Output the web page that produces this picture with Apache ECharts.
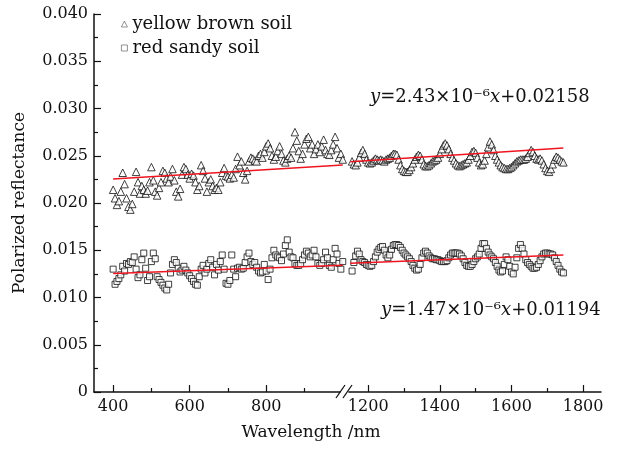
<!DOCTYPE html>
<html><head><meta charset="utf-8">
<script src="https://cdn.jsdelivr.net/npm/echarts@6/dist/echarts.min.js"></script>
<style>html,body{margin:0;padding:0;background:#fff}#c{width:622px;height:451px}</style>
</head><body><div id="c"></div>
<script>
// wavelength grid (nm) of each spectral segment
const leftStart = 400, rightStart = 1155, step = 5;

// yellow brown soil, 400-1000 nm
const yellowLeft = [
0.0214,0.0205,0.0198,0.0202,0.0212,0.0232,0.0220,0.0205,0.0196,0.0193,
0.0199,0.0212,0.0233,0.0222,0.0210,0.0218,0.0214,0.0210,0.0213,0.0222,
0.0238,0.0224,0.0212,0.0208,0.0216,0.0222,0.0234,0.0232,0.0226,0.0222,
0.0228,0.0236,0.0224,0.0212,0.0207,0.0215,0.0230,0.0238,0.0236,0.0230,
0.0226,0.0231,0.0229,0.0222,0.0214,0.0218,0.0240,0.0234,0.0226,0.0212,
0.0222,0.0225,0.0218,0.0214,0.0216,0.0214,0.0222,0.0232,0.0237,0.0229,
0.0228,0.0226,0.0230,0.0227,0.0236,0.0249,0.0240,0.0244,0.0232,0.0225,
0.0234,0.0244,0.0248,0.0247,0.0245,0.0244,0.0250,0.0252,0.0248,0.0254,
0.0260,0.0263,0.0258,0.0250,0.0246,0.0249,0.0255,0.0260,0.0252,0.0245,
0.0243,0.0247,0.0250,0.0248,0.0258,0.0275,0.0266,0.0255,0.0247,0.0252,
0.0262,0.0268,0.0270,0.0258,0.0262,0.0252,0.0257,0.0262,0.0254,0.0260,
0.0267,0.0256,0.0252,0.0251,0.0256,0.0262,0.0270,0.0258,0.0248,0.0252,
0.0246];
// red sandy soil, 400-1000 nm
const redLeft = [
0.0130,0.0114,0.0117,0.0120,0.0124,0.0133,0.0128,0.0136,0.0135,0.0138,
0.0137,0.0143,0.0130,0.0121,0.0124,0.0140,0.0147,0.0131,0.0118,0.0122,
0.0138,0.0147,0.0141,0.0122,0.0119,0.0116,0.0113,0.0110,0.0108,0.0114,
0.0126,0.0135,0.0140,0.0137,0.0131,0.0127,0.0129,0.0133,0.0129,0.0126,
0.0123,0.0120,0.0117,0.0114,0.0113,0.0122,0.0130,0.0134,0.0126,0.0130,
0.0136,0.0140,0.0132,0.0124,0.0135,0.0129,0.0138,0.0145,0.0130,0.0115,
0.0114,0.0118,0.0145,0.0130,0.0122,0.0131,0.0132,0.0130,0.0131,0.0137,
0.0143,0.0147,0.0138,0.0135,0.0137,0.0132,0.0128,0.0126,0.0127,0.0135,
0.0128,0.0119,0.0130,0.0142,0.0150,0.0145,0.0143,0.0142,0.0139,0.0146,
0.0155,0.0161,0.0148,0.0143,0.0142,0.0136,0.0134,0.0134,0.0136,0.0140,
0.0145,0.0149,0.0147,0.0143,0.0145,0.0150,0.0143,0.0136,0.0134,0.0136,
0.0140,0.0148,0.0142,0.0134,0.0132,0.0140,0.0152,0.0146,0.0136,0.0130,
0.0138];
// yellow brown soil, 1155-1745 nm
const yellowRight = [
0.0244,0.0241,0.0240,0.0243,0.0248,0.0253,0.0256,0.0252,0.0246,0.0243,
0.0242,0.0243,0.0245,0.0247,0.0246,0.0245,0.0246,0.0245,0.0244,0.0246,
0.0247,0.0248,0.0250,0.0252,0.0252,0.0251,0.0246,0.0240,0.0236,0.0234,
0.0233,0.0233,0.0235,0.0238,0.0242,0.0246,0.0249,0.0251,0.0250,0.0246,
0.0241,0.0239,0.0239,0.0240,0.0242,0.0244,0.0245,0.0246,0.0248,0.0252,
0.0257,0.0261,0.0263,0.0261,0.0257,0.0252,0.0248,0.0245,0.0242,0.0240,
0.0239,0.0240,0.0241,0.0242,0.0243,0.0246,0.0250,0.0254,0.0255,0.0253,
0.0248,0.0243,0.0240,0.0241,0.0245,0.0252,0.0259,0.0265,0.0262,0.0256,
0.0250,0.0246,0.0243,0.0240,0.0238,0.0237,0.0236,0.0236,0.0237,0.0238,
0.0240,0.0242,0.0244,0.0245,0.0246,0.0246,0.0246,0.0247,0.0249,0.0253,
0.0256,0.0254,0.0250,0.0247,0.0246,0.0247,0.0245,0.0241,0.0237,0.0234,
0.0233,0.0236,0.0241,0.0246,0.0249,0.0248,0.0246,0.0244,0.0243];
// red sandy soil, 1155-1745 nm
const redRight = [
0.0128,0.0137,0.0144,0.0149,0.0146,0.0140,0.0138,0.0137,0.0135,0.0134,
0.0133,0.0134,0.0138,0.0143,0.0148,0.0151,0.0153,0.0154,0.0150,0.0145,
0.0142,0.0145,0.0151,0.0155,0.0156,0.0156,0.0155,0.0153,0.0150,0.0147,
0.0145,0.0143,0.0141,0.0138,0.0134,0.0131,0.0129,0.0130,0.0135,0.0142,
0.0147,0.0149,0.0147,0.0144,0.0142,0.0141,0.0141,0.0140,0.0140,0.0139,
0.0138,0.0138,0.0138,0.0139,0.0142,0.0145,0.0147,0.0147,0.0147,0.0147,
0.0146,0.0144,0.0141,0.0137,0.0134,0.0133,0.0133,0.0135,0.0138,0.0141,
0.0143,0.0146,0.0152,0.0157,0.0157,0.0152,0.0148,0.0145,0.0143,0.0141,
0.0137,0.0133,0.0129,0.0127,0.0128,0.0135,0.0143,0.0140,0.0133,0.0127,
0.0125,0.0132,0.0142,0.0152,0.0156,0.0152,0.0146,0.0140,0.0137,0.0135,
0.0133,0.0131,0.0131,0.0132,0.0135,0.0139,0.0143,0.0146,0.0147,0.0147,
0.0146,0.0146,0.0145,0.0142,0.0138,0.0134,0.0130,0.0127,0.0126];

// linear fits printed on the chart
const yellowFit = { slope: 2.43e-6, intercept: 0.02158 };
const redFit = { slope: 1.47e-6, intercept: 0.01194 };
const fitRangeLeft = [400, 1000];
const fitRangeRight = [1150, 1745];

// axis ticks
const xLabelsLeft = [400, 600, 800];
const xMinorLeft = [500, 700, 900];
const xLabelsRight = [1200, 1400, 1600, 1800];
const xMinorRight = [1300, 1500, 1700];
const seriesNames = ['yellow brown soil', 'red sandy soil'];

const FONT = 'DejaVu Serif';
const INK = '#111111';

function pairs(start, arr) { return arr.map((v, i) => [start + i * step, v]); }
function fitLine(fit, range) { return range.map(x => [x, fit.intercept + fit.slope * x]); }

const chart = echarts.init(document.getElementById('c'), null, { renderer: 'canvas' });

function mainX(grid, min, max, labels) {
  return {
    type: 'value', gridIndex: grid, min: min, max: max, position: 'bottom',
    axisLine: { show: true, onZero: false, lineStyle: { color: INK, width: 1.5 } },
    axisTick: { show: true, inside: true, length: 7, customValues: labels, lineStyle: { color: INK, width: 1.2 } },
    axisLabel: { show: true, customValues: labels, margin: 7, color: INK, fontFamily: FONT, fontSize: 16,
      formatter: v => String(v) },
    splitLine: { show: false }
  };
}
function minorX(grid, min, max, ticks) {
  return {
    type: 'value', gridIndex: grid, min: min, max: max, position: 'bottom',
    axisLine: { show: false, onZero: false },
    axisTick: { show: true, inside: true, length: 4, customValues: ticks, lineStyle: { color: INK, width: 1.2 } },
    axisLabel: { show: false },
    splitLine: { show: false }
  };
}
const pointStyle = { color: '#ffffff', borderColor: '#111111', borderWidth: 1 };
function scatter(name, xi, data, symbol, size) {
  return { type: 'scatter', name: name, xAxisIndex: xi, yAxisIndex: xi, data: data,
    symbol: symbol, symbolSize: size, itemStyle: pointStyle, z: 2, silent: true };
}
function fit(xi, data) {
  return { type: 'line', xAxisIndex: xi, yAxisIndex: xi, data: data, symbol: 'none',
    lineStyle: { color: '#f0141e', width: 1.5 }, z: 5, silent: true };
}

chart.setOption({
  animation: false,
  backgroundColor: '#ffffff',
  grid: [
    { left: 94, top: 14, width: 254.5, height: 378 },
    { left: 348.5, top: 14, width: 252.5, height: 378 }
  ],
  xAxis: [
    mainX(0, 350, 1015, xLabelsLeft),
    mainX(1, 1145, 1850, xLabelsRight),
    minorX(0, 350, 1015, xMinorLeft),
    minorX(1, 1145, 1850, xMinorRight)
  ],
  yAxis: [
    { type: 'value', gridIndex: 0, min: 0, max: 0.04, interval: 0.005,
      name: 'Polarized reflectance', nameLocation: 'middle', nameGap: 66,
      nameTextStyle: { color: INK, fontFamily: FONT, fontSize: 17 },
      axisLine: { show: true, lineStyle: { color: INK, width: 1.5 } },
      axisTick: { show: true, inside: true, length: 7, lineStyle: { color: INK, width: 1.2 } },
      minorTick: { show: true, splitNumber: 2, length: 4, lineStyle: { color: INK, width: 1.2 } },
      axisLabel: { margin: 6, color: INK, fontFamily: FONT, fontSize: 16,
        formatter: v => v === 0 ? '0' : v.toFixed(3) },
      splitLine: { show: false } },
    { type: 'value', gridIndex: 1, min: 0, max: 0.04, interval: 0.005, show: false,
      splitLine: { show: false } }
  ],
  legend: {
    orient: 'vertical', left: 116, top: 10, itemWidth: 6, itemHeight: 6, itemGap: 6,
    data: [ { name: seriesNames[0], icon: 'triangle' }, { name: seriesNames[1], icon: 'rect' } ],
    itemStyle: { color: '#ffffff', borderColor: '#555', borderWidth: 0.8 },
    textStyle: { color: INK, fontFamily: FONT, fontSize: 18 }
  },
  series: [
    scatter(seriesNames[0], 0, pairs(leftStart, yellowLeft), 'triangle', 7.5),
    scatter(seriesNames[0], 1, pairs(rightStart, yellowRight), 'triangle', 7.5),
    scatter(seriesNames[1], 0, pairs(leftStart, redLeft), 'rect', 6),
    scatter(seriesNames[1], 1, pairs(rightStart, redRight), 'rect', 6),
    fit(0, fitLine(yellowFit, fitRangeLeft)),
    fit(1, fitLine(yellowFit, fitRangeRight)),
    fit(0, fitLine(redFit, fitRangeLeft)),
    fit(1, fitLine(redFit, fitRangeRight))
  ],
  graphic: [
    { type: 'rect', z: 100, shape: { x: 340.5, y: 388, width: 8, height: 8 }, style: { fill: '#ffffff' } },
    { type: 'line', z: 101, shape: { x1: 336, y1: 398, x2: 345, y2: 385 }, style: { stroke: INK, lineWidth: 1.3 } },
    { type: 'line', z: 101, shape: { x1: 343, y1: 398, x2: 352, y2: 385 }, style: { stroke: INK, lineWidth: 1.3 } },
    { type: 'text', z: 100, left: 'center', top: 424,
      style: { text: 'Wavelength /nm', fill: INK, font: '17px "' + FONT + '"' } },
    { type: 'text', z: 100, left: 370, top: 88,
      style: { text: '{i|y}=2.43×10⁻⁶{i|x}+0.02158', fill: INK, font: '18px "' + FONT + '"',
        rich: { i: { fontStyle: 'italic', fontFamily: FONT, fontSize: 18 } } } },
    { type: 'text', z: 100, left: 381, top: 301,
      style: { text: '{i|y}=1.47×10⁻⁶{i|x}+0.01194', fill: INK, font: '18px "' + FONT + '"',
        rich: { i: { fontStyle: 'italic', fontFamily: FONT, fontSize: 18 } } } }
  ]
});
</script>
</body></html>
